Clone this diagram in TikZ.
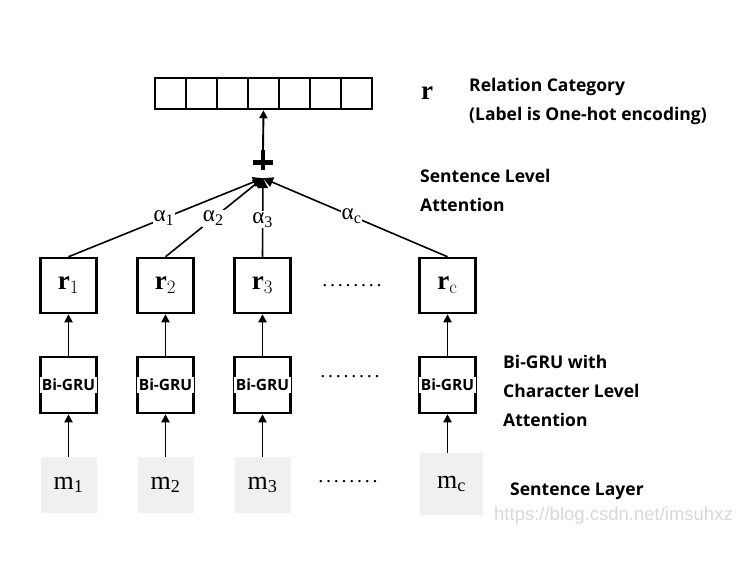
\documentclass[tikz,border=0pt]{standalone}
\usepackage{fontspec}
\usepackage{xcolor}
\usetikzlibrary{arrows.meta}
\newfontfamily\tms{Liberation Serif}
\newfontfamily\yahei{Open Sans}
\definecolor{cellgray}{RGB}{240,240,240}
\definecolor{markgray}{RGB}{215,215,215}
\newcommand\dotrow{\hbox to 62pt{\xleaders\hbox to 7.75pt{\hss.\hss}\hfill}}

\begin{document}
\begin{tikzpicture}[x=1pt, y=-1pt,
  cell/.style={draw=black, line width=2.5pt, minimum width=31pt, minimum height=31pt, inner sep=0pt},
  rbox/.style={draw=black, line width=2.5pt, minimum width=56pt, minimum height=55pt, inner sep=0pt, font=\tms\fontsize{27}{28}\selectfont\bfseries},
  grubox/.style={draw=black, line width=2.5pt, minimum width=56pt, minimum height=56pt, inner sep=0pt},
  grutext/.style={fill=white, inner xsep=2pt, inner ysep=2pt, font=\yahei\fontsize{15.5}{17}\selectfont\bfseries},
  mbox/.style={fill=cellgray, minimum width=56pt, minimum height=56pt, inner sep=0pt, font=\tms\fontsize{26}{28}\selectfont},
  alab/.style={fill=white, inner sep=1pt, font=\tms\fontsize{23}{24}\selectfont},
  note/.style={anchor=west, inner sep=0pt, font=\yahei\fontsize{17.5}{29}\selectfont\bfseries, align=left},
  dots/.style={inner sep=0pt, font=\tms\fontsize{20}{20}\selectfont},
  arr/.style={line width=1.9pt, -{Triangle[width=8pt,length=8pt]}},
  lnk/.style={line width=1.6pt, -{Triangle[width=10pt,length=10pt]}}]
  \useasboundingbox (0,0) rectangle (744,564);

  % Output vector r (one-hot)
  \foreach \i in {1,...,7}
    \node[cell] (v\i) at ({139.5+31*\i},93.5) {};

  % Sum node
  \node[minimum size=20pt, inner sep=0pt] (sum) at (263,160) {};
  \draw[line width=5pt] ([yshift=-3pt]sum.west) -- ([yshift=-3pt]sum.east);
  \draw[line width=4pt] (sum.north) -- (sum.south);
  \draw[arr] (sum.north) -- (v4.south);

  % Sentence representations
  \node[rbox] (r1) at (68.5,285.5) {r\textsubscript{\normalfont 1}};
  \node[rbox] (r2) at (165.5,285.5) {r\textsubscript{\normalfont 2}};
  \node[rbox] (r3) at (262.5,285.5) {r\textsubscript{\normalfont 3}};
  \node[rbox] (rc) at (447.5,285.5) {r\textsubscript{\normalfont c}};

  % Bi-GRU encoders
  \node[grubox] (g1) at (68.5,385) {};
  \node[grubox] (g2) at (165.5,385) {};
  \node[grubox] (g3) at (262.5,385) {};
  \node[grubox] (gc) at (447.5,385) {};
  \node[grutext] (t1) at (g1) {Bi-GRU};
  \node[grutext] (t2) at (g2) {Bi-GRU};
  \node[grutext] (t3) at (g3) {Bi-GRU};
  \node[grutext] (tc) at (gc) {Bi-GRU};

  % Sentences
  \node[mbox] (m1) at (68.5,485) {m\textsubscript{1}};
  \node[mbox] (m2) at (165.5,485) {m\textsubscript{2}};
  \node[mbox] (m3) at (262.5,485) {m\textsubscript{3}};
  \node[mbox, minimum width=63pt, minimum height=62pt] (mc) at (451.5,484) {m\textsubscript{c}};

  \foreach \c in {1,2,3,c} {
    \draw[arr] (g\c|-m\c.north) -- (g\c.south);
    \draw[arr] (g\c.north) -- (r\c.south);
  }

  % Attention weights
  \draw[lnk] (r1.north) -- node[alab, pos=0.49] (a1) {α\textsubscript{1}} ([yshift=-8pt]sum.south);
  \draw[lnk] (r2.north) -- node[alab, pos=0.49] (a2) {α\textsubscript{2}} ([yshift=-8pt]sum.south);
  \draw[lnk] (r3.north) -- node[alab, pos=0.47] (a3) {α\textsubscript{3}} ([yshift=-8pt]sum.south);
  \draw[lnk] (rc.north) -- node[alab, pos=0.52] (ac) {α\textsubscript{c}} ([yshift=-8pt]sum.south);

  % Dots
  \node[dots] (d1) at (352,286) {\dotrow};
  \node[dots] (d2) at (350,377) {\dotrow};
  \node[dots] (d3) at (348,482) {\dotrow};

  % Notes on the right
  \node[inner sep=0pt, font=\tms\fontsize{27}{28}\selectfont\bfseries] (rlab) at (427,93) {r};
  \node[note] (n1) at (469,101.5) {Relation Category\\(Label is One-hot encoding)};
  \node[note] (n2) at (420,190.5) {Sentence Level\\Attention};
  \node[note] (n3) at (503,391) {Bi-GRU with\\Character Level\\Attention};
  \node[note] (n4) at (510,491) {Sentence Layer};
  \node[anchor=west, inner sep=0pt, text=markgray, font=\fontspec{Liberation Sans}\fontsize{18.5}{20}\selectfont] (wm) at (494,516) {https://blog.csdn.net/imsuhxz};
\end{tikzpicture}
\end{document}
